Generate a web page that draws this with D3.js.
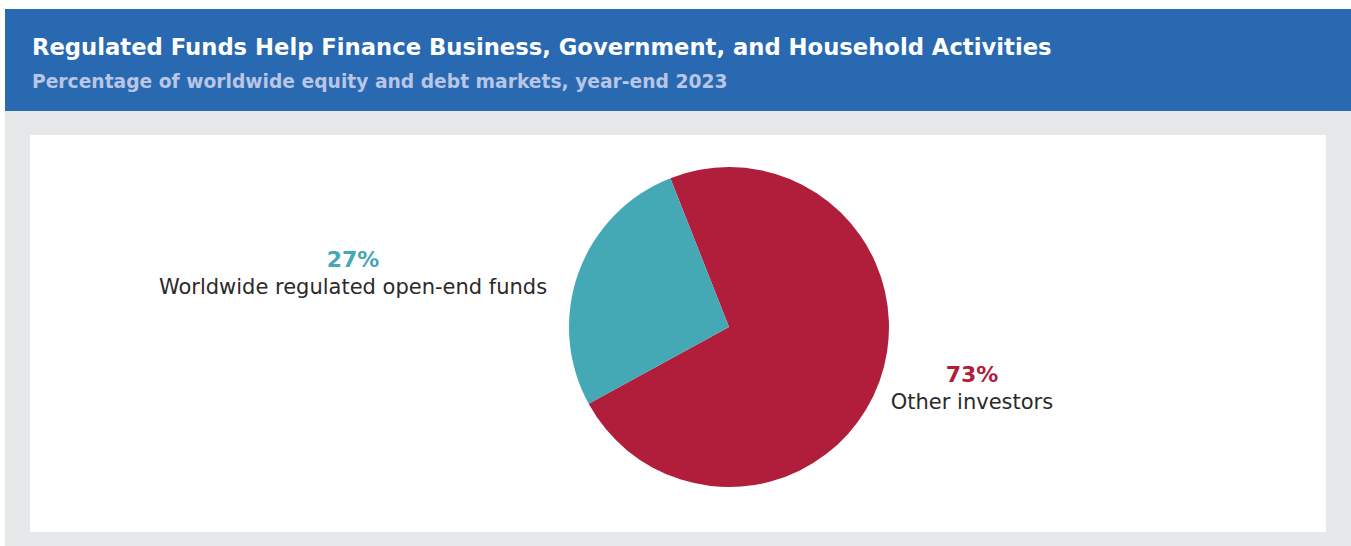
<!DOCTYPE html>
<html>
<head>
    <meta charset="utf-8">
    <script src="https://d3js.org/d3.v7.min.js"></script>
    <style>
        body { margin: 0; background: #ffffff; }
        text { font-family: "DejaVu Sans", sans-serif; }
    </style>
</head>
<body>
<div id="svg"></div>
<script>
    // chart data
    var categories = ["Other investors", "Worldwide regulated open-end funds"];
    var shares = [73, 27];
    var shareLabels = ["73%", "27%"];
    var sliceColors = ["#b01e3b", "#44a8b5"];

    var title = "Regulated Funds Help Finance Business, Government, and Household Activities";
    var subtitle = "Percentage of worldwide equity and debt markets, year-end 2023";

    var W = 1351, H = 546;

    var svg = d3.select("#svg")
        .append("svg")
        .attr("width", W)
        .attr("height", H);

    // grey frame + blue header + white panel
    svg.append("rect")
        .attr("x", 5).attr("y", 111)
        .attr("width", W - 5).attr("height", H - 111)
        .attr("fill", "#e6e7e9");
    svg.append("rect")
        .attr("x", 5).attr("y", 9)
        .attr("width", W - 5).attr("height", 102)
        .attr("fill", "#2869b2");
    svg.append("rect")
        .attr("x", 30).attr("y", 135)
        .attr("width", 1296).attr("height", 397)
        .attr("fill", "#ffffff");

    svg.append("text")
        .attr("x", 32).attr("y", 55)
        .attr("fill", "#ffffff")
        .attr("font-size", 22.7)
        .attr("font-weight", 700)
        .text(title);

    svg.append("text")
        .attr("x", 32).attr("y", 88)
        .attr("fill", "#b9c5e4")
        .attr("font-size", 18.7)
        .attr("font-weight", 700)
        .text(subtitle);

    // pie
    var cx = 729, cy = 327, radius = 160;
    var startDeg = -21.5;

    var pie = d3.pie()
        .sort(null)
        .value(function(d) { return d; })
        .startAngle(startDeg * Math.PI / 180)
        .endAngle((startDeg + 360) * Math.PI / 180);

    var arc = d3.arc().innerRadius(0).outerRadius(radius);

    var g = svg.append("g")
        .attr("transform", "translate(" + cx + "," + cy + ")");

    g.selectAll("path")
        .data(pie(shares))
        .enter()
        .append("path")
        .attr("d", arc)
        .attr("fill", function(d, i) { return sliceColors[i]; });

    // labels (offset from pie centre)
    var labelPos = [
        { dx: 243, dy: 55 },   // other investors
        { dx: -376, dy: -60 }  // worldwide funds
    ];

    var labels = svg.selectAll(".lbl")
        .data(categories)
        .enter()
        .append("g")
        .attr("class", "lbl")
        .attr("transform", function(d, i) {
            return "translate(" + (cx + labelPos[i].dx) + "," + (cy + labelPos[i].dy) + ")";
        });

    labels.append("text")
        .attr("text-anchor", "middle")
        .attr("font-size", 22)
        .attr("font-weight", 700)
        .attr("fill", function(d, i) { return sliceColors[i]; })
        .text(function(d, i) { return shareLabels[i]; });

    labels.append("text")
        .attr("text-anchor", "middle")
        .attr("y", 27)
        .attr("font-size", 21)
        .attr("fill", "#2a2a2a")
        .text(function(d) { return d; });
</script>
</body>
</html>
